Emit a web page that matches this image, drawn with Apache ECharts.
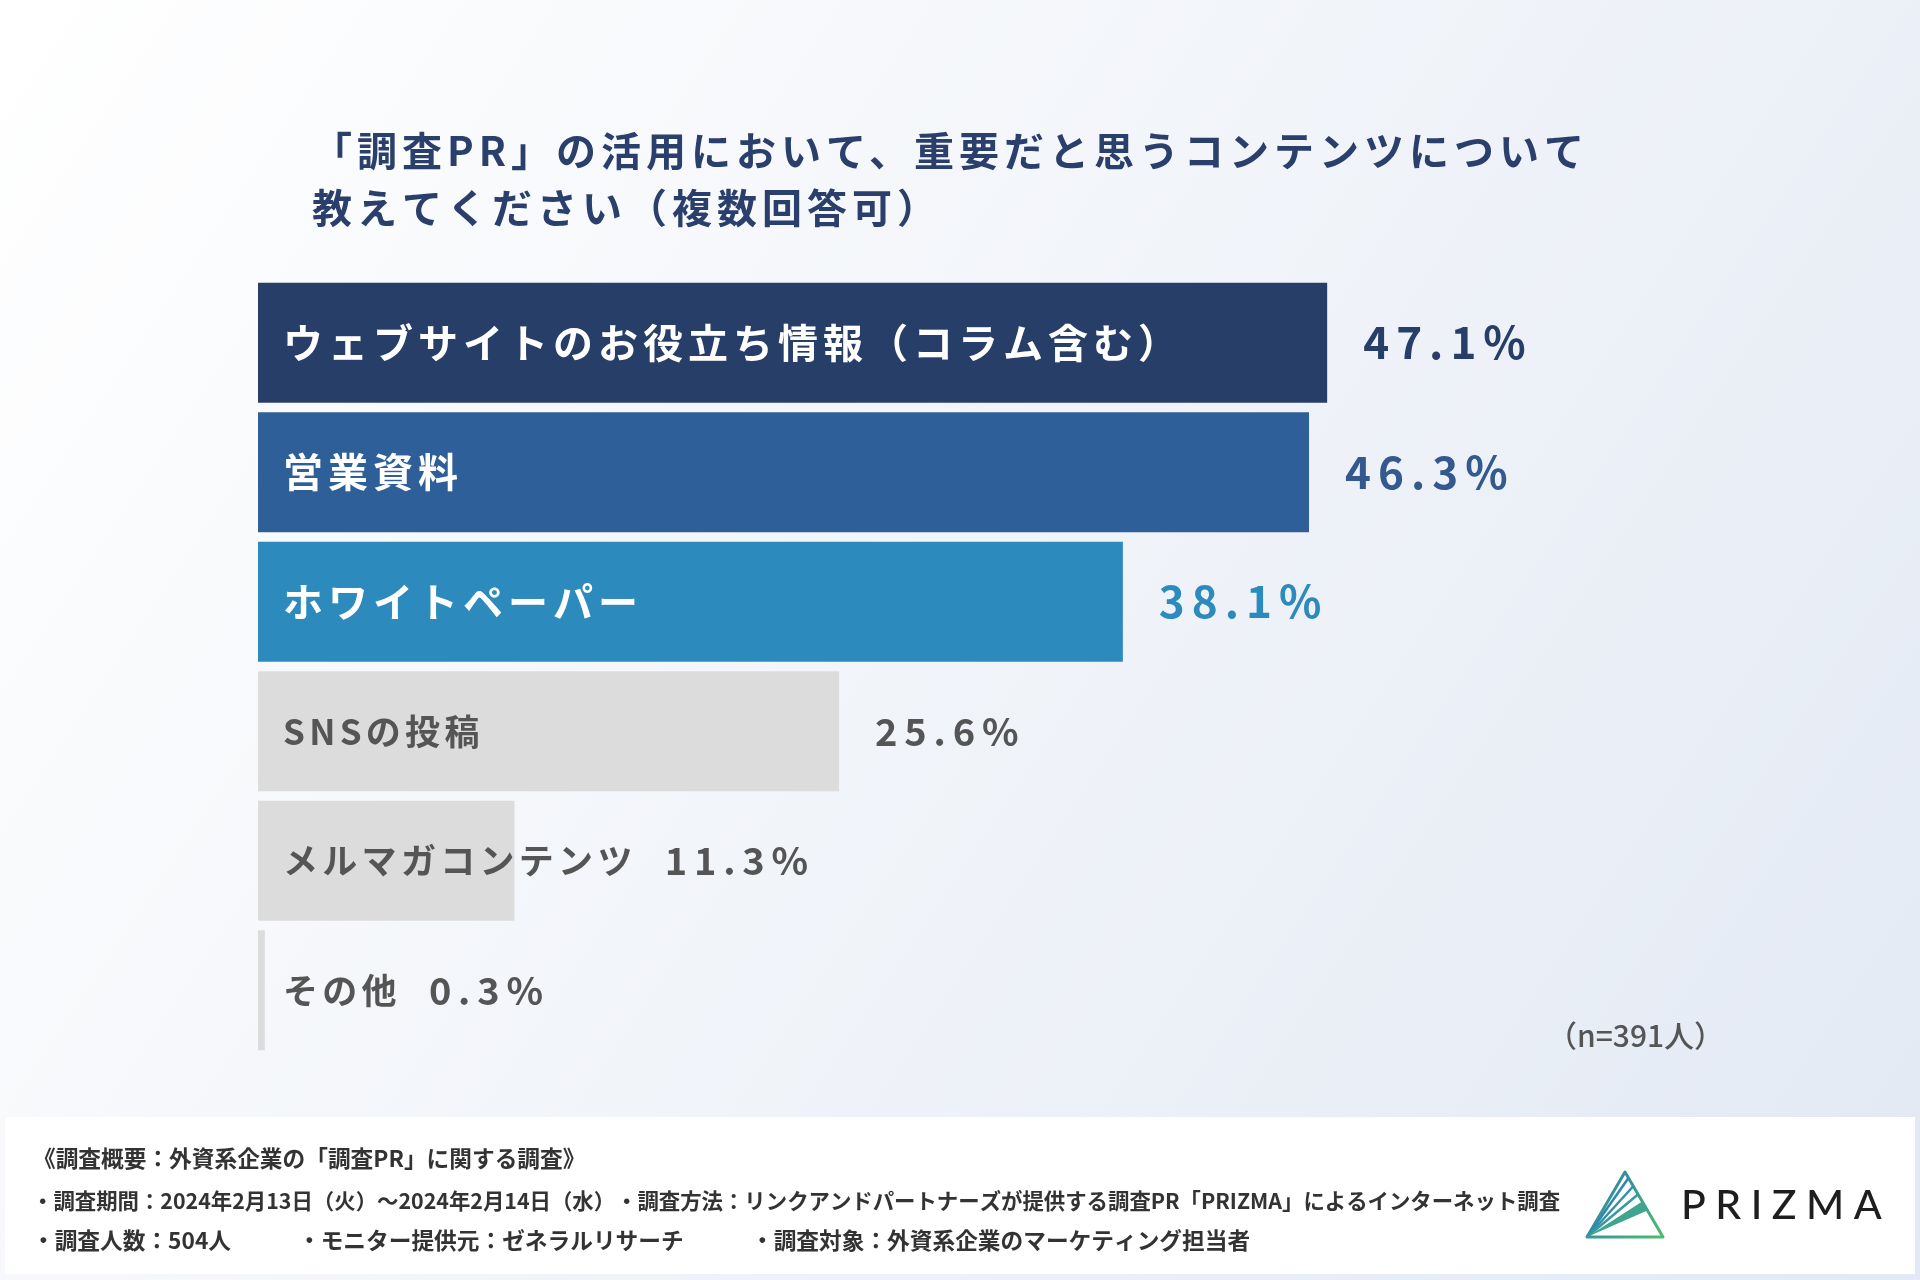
<!DOCTYPE html>
<html>
<head>
<meta charset="utf-8">
<script src="https://cdn.jsdelivr.net/npm/echarts@6/dist/echarts.min.js"></script>
<style>
html,body{margin:0;padding:0;}
#chart{width:1920px;height:1280px;}
</style>
</head>
<body>
<div id="chart"></div>
<script>
// ---- data ----
const titleLines = ['「調査PR」の活用において、重要だと思うコンテンツについて', '教えてください（複数回答可）'];
const categories = ['ウェブサイトのお役立ち情報（コラム含む）', '営業資料', 'ホワイトペーパー', 'SNSの投稿', 'メルマガコンテンツ', 'その他'];
const values = [47.1, 46.3, 38.1, 25.6, 11.3, 0.3];
const sampleNote = '（n=391人）';
const footerHeading = '《調査概要：外資系企業の「調査PR」に関する調査》';
const footerLine2 = ['・調査期間：2024年2月13日（火）〜2024年2月14日（水）', '・調査方法：リンクアンドパートナーズが提供する調査PR「PRIZMA」によるインターネット調査'];
const footerLine3 = ['・調査人数：504人', '・モニター提供元：ゼネラルリサーチ', '・調査対象：外資系企業のマーケティング担当者'];
const logoText = 'PRIZMA';

// ---- styles ----
const barColors = ['#273E68', '#2E5F98', '#2C8BBC', '#DCDCDC', '#DCDCDC', '#DCDCDC'];
const nameColors = ['#FFFFFF', '#FFFFFF', '#FFFFFF', '#555555', '#555555', '#555555'];
const nameSizes = [40, 40, 40, 35, 35, 35];
const valueColors = ['#273E68', '#34598F', '#2C8BBC', '#555555', '#555555', '#555555'];
const valueSizes = [44, 44, 44, 38, 38, 38];
const FONT = "'Noto Sans CJK JP', 'Noto Sans', sans-serif";

// letter spacing per font size (canvas letterSpacing, used for measuring too)
const SPACING = {40: 5, 35: 4.3, 44: 7, 38: 6.8, 41: 9.5};
(function () {
  const proto = CanvasRenderingContext2D.prototype;
  const desc = Object.getOwnPropertyDescriptor(proto, 'font');
  if (!desc || !('letterSpacing' in proto)) return;
  Object.defineProperty(proto, 'font', {
    configurable: true,
    get() { return desc.get.call(this); },
    set(v) {
      desc.set.call(this, v);
      const m = /(\d+(?:\.\d+)?)px/.exec(v);
      const px = m ? parseFloat(m[1]) : 12;
      this.letterSpacing = (SPACING[px] || 0) + 'px';
    }
  });
})();

const nameFits = values.map(v => v >= 20);

const chart = echarts.init(document.getElementById('chart'), null, {renderer: 'canvas'});

function footerText(x, y, text, size) {
  return {
    type: 'text', x: x, y: y,
    style: {text: text, font: 'bold ' + size + 'px ' + FONT, fill: '#333333', textVerticalAlign: 'middle'}
  };
}

const option = {
  backgroundColor: {
    type: 'linear', x: 0, y: 0, x2: 1, y2: 1,
    colorStops: [
      {offset: 0, color: '#FFFFFF'},
      {offset: 0.5, color: '#F1F4F9'},
      {offset: 1, color: '#E2E9F4'}
    ]
  },
  animation: false,
  title: {
    text: titleLines.join('\n'),
    left: 307,
    top: 117,
    textStyle: {fontFamily: FONT, fontSize: 40, fontWeight: 'bold', color: '#2A3F6B', lineHeight: 57}
  },
  grid: {left: 258, top: 278, width: 1362, height: 777, containLabel: false},
  xAxis: {type: 'value', min: 0, max: 60, show: false},
  yAxis: {type: 'category', data: categories, inverse: true, show: false},
  series: [
    {
      type: 'bar',
      barWidth: 120,
      barGap: '-100%',
      z: 2,
      data: values.map((v, i) => ({
        value: v,
        itemStyle: {color: barColors[i]},
        label: {color: nameColors[i], fontSize: nameSizes[i]}
      })),
      label: {
        show: true,
        position: 'insideLeft',
        distance: 25,
        fontFamily: FONT,
        fontWeight: 'bold',
        formatter: p => nameFits[p.dataIndex]
          ? categories[p.dataIndex]
          : categories[p.dataIndex] + '{v|' + values[p.dataIndex].toFixed(1) + '%}',
        rich: {
          v: {fontFamily: FONT, fontSize: 38, fontWeight: 'bold', color: '#555555', padding: [0, 0, 0, 28]}
        }
      }
    },
    {
      type: 'bar',
      barWidth: 120,
      barGap: '-100%',
      silent: true,
      z: 3,
      itemStyle: {color: 'rgba(0,0,0,0)'},
      data: values.map((v, i) => ({
        value: v,
        label: {show: nameFits[i], color: valueColors[i], fontSize: valueSizes[i]}
      })),
      label: {
        position: 'right',
        distance: 36,
        fontFamily: FONT,
        fontWeight: 'bold',
        formatter: p => values[p.dataIndex].toFixed(1) + '%'
      }
    }
  ],
  graphic: [
    {
      type: 'text', x: 1547, y: 1036,
      style: {text: sampleNote, font: '500 30px ' + FONT, fill: '#555555', textVerticalAlign: 'middle'}
    },
    {
      type: 'rect', z: -1,
      shape: {x: 5, y: 1117, width: 1910, height: 157},
      style: {fill: '#FFFFFF'}
    },
    footerText(33, 1158, footerHeading, 22.7),
    footerText(32, 1201, footerLine2[0], 21.4),
    footerText(616, 1201, footerLine2[1], 21.4),
    footerText(32, 1240, footerLine3[0], 22.7),
    footerText(298, 1240, footerLine3[1], 22.7),
    footerText(751, 1240, footerLine3[2], 22.7),
    // logo mark
    {
      type: 'polygon',
      shape: {points: [[1625, 1172], [1663, 1237], [1587, 1237]]},
      style: {
        fill: 'none', lineWidth: 3, lineJoin: 'round',
        stroke: {type: 'linear', x: 0, y: 0, x2: 1, y2: 1, global: false,
          colorStops: [{offset: 0, color: '#2B78B4'}, {offset: 1, color: '#4CC06A'}]}
      }
    },
    {type: 'line', shape: {x1: 1587, y1: 1237, x2: 1628.5, y2: 1178}, style: {stroke: '#2F86AE', lineWidth: 2.5}},
    {type: 'line', shape: {x1: 1587, y1: 1237, x2: 1633.5, y2: 1186}, style: {stroke: '#3290A8', lineWidth: 2.5}},
    {type: 'line', shape: {x1: 1587, y1: 1237, x2: 1638.5, y2: 1194}, style: {stroke: '#369AA0', lineWidth: 2.5}},
    {
      type: 'polygon',
      shape: {points: [[1587, 1237], [1643, 1201], [1648.5, 1210]]},
      style: {fill: '#3FA58C'}
    },
    {
      type: 'text', x: 1681, y: 1206,
      style: {text: logoText, font: '500 41px Lato, ' + FONT, fill: '#1E1E1E', textVerticalAlign: 'middle'}
    }
  ]
};
chart.setOption(option);
</script>
</body>
</html>
